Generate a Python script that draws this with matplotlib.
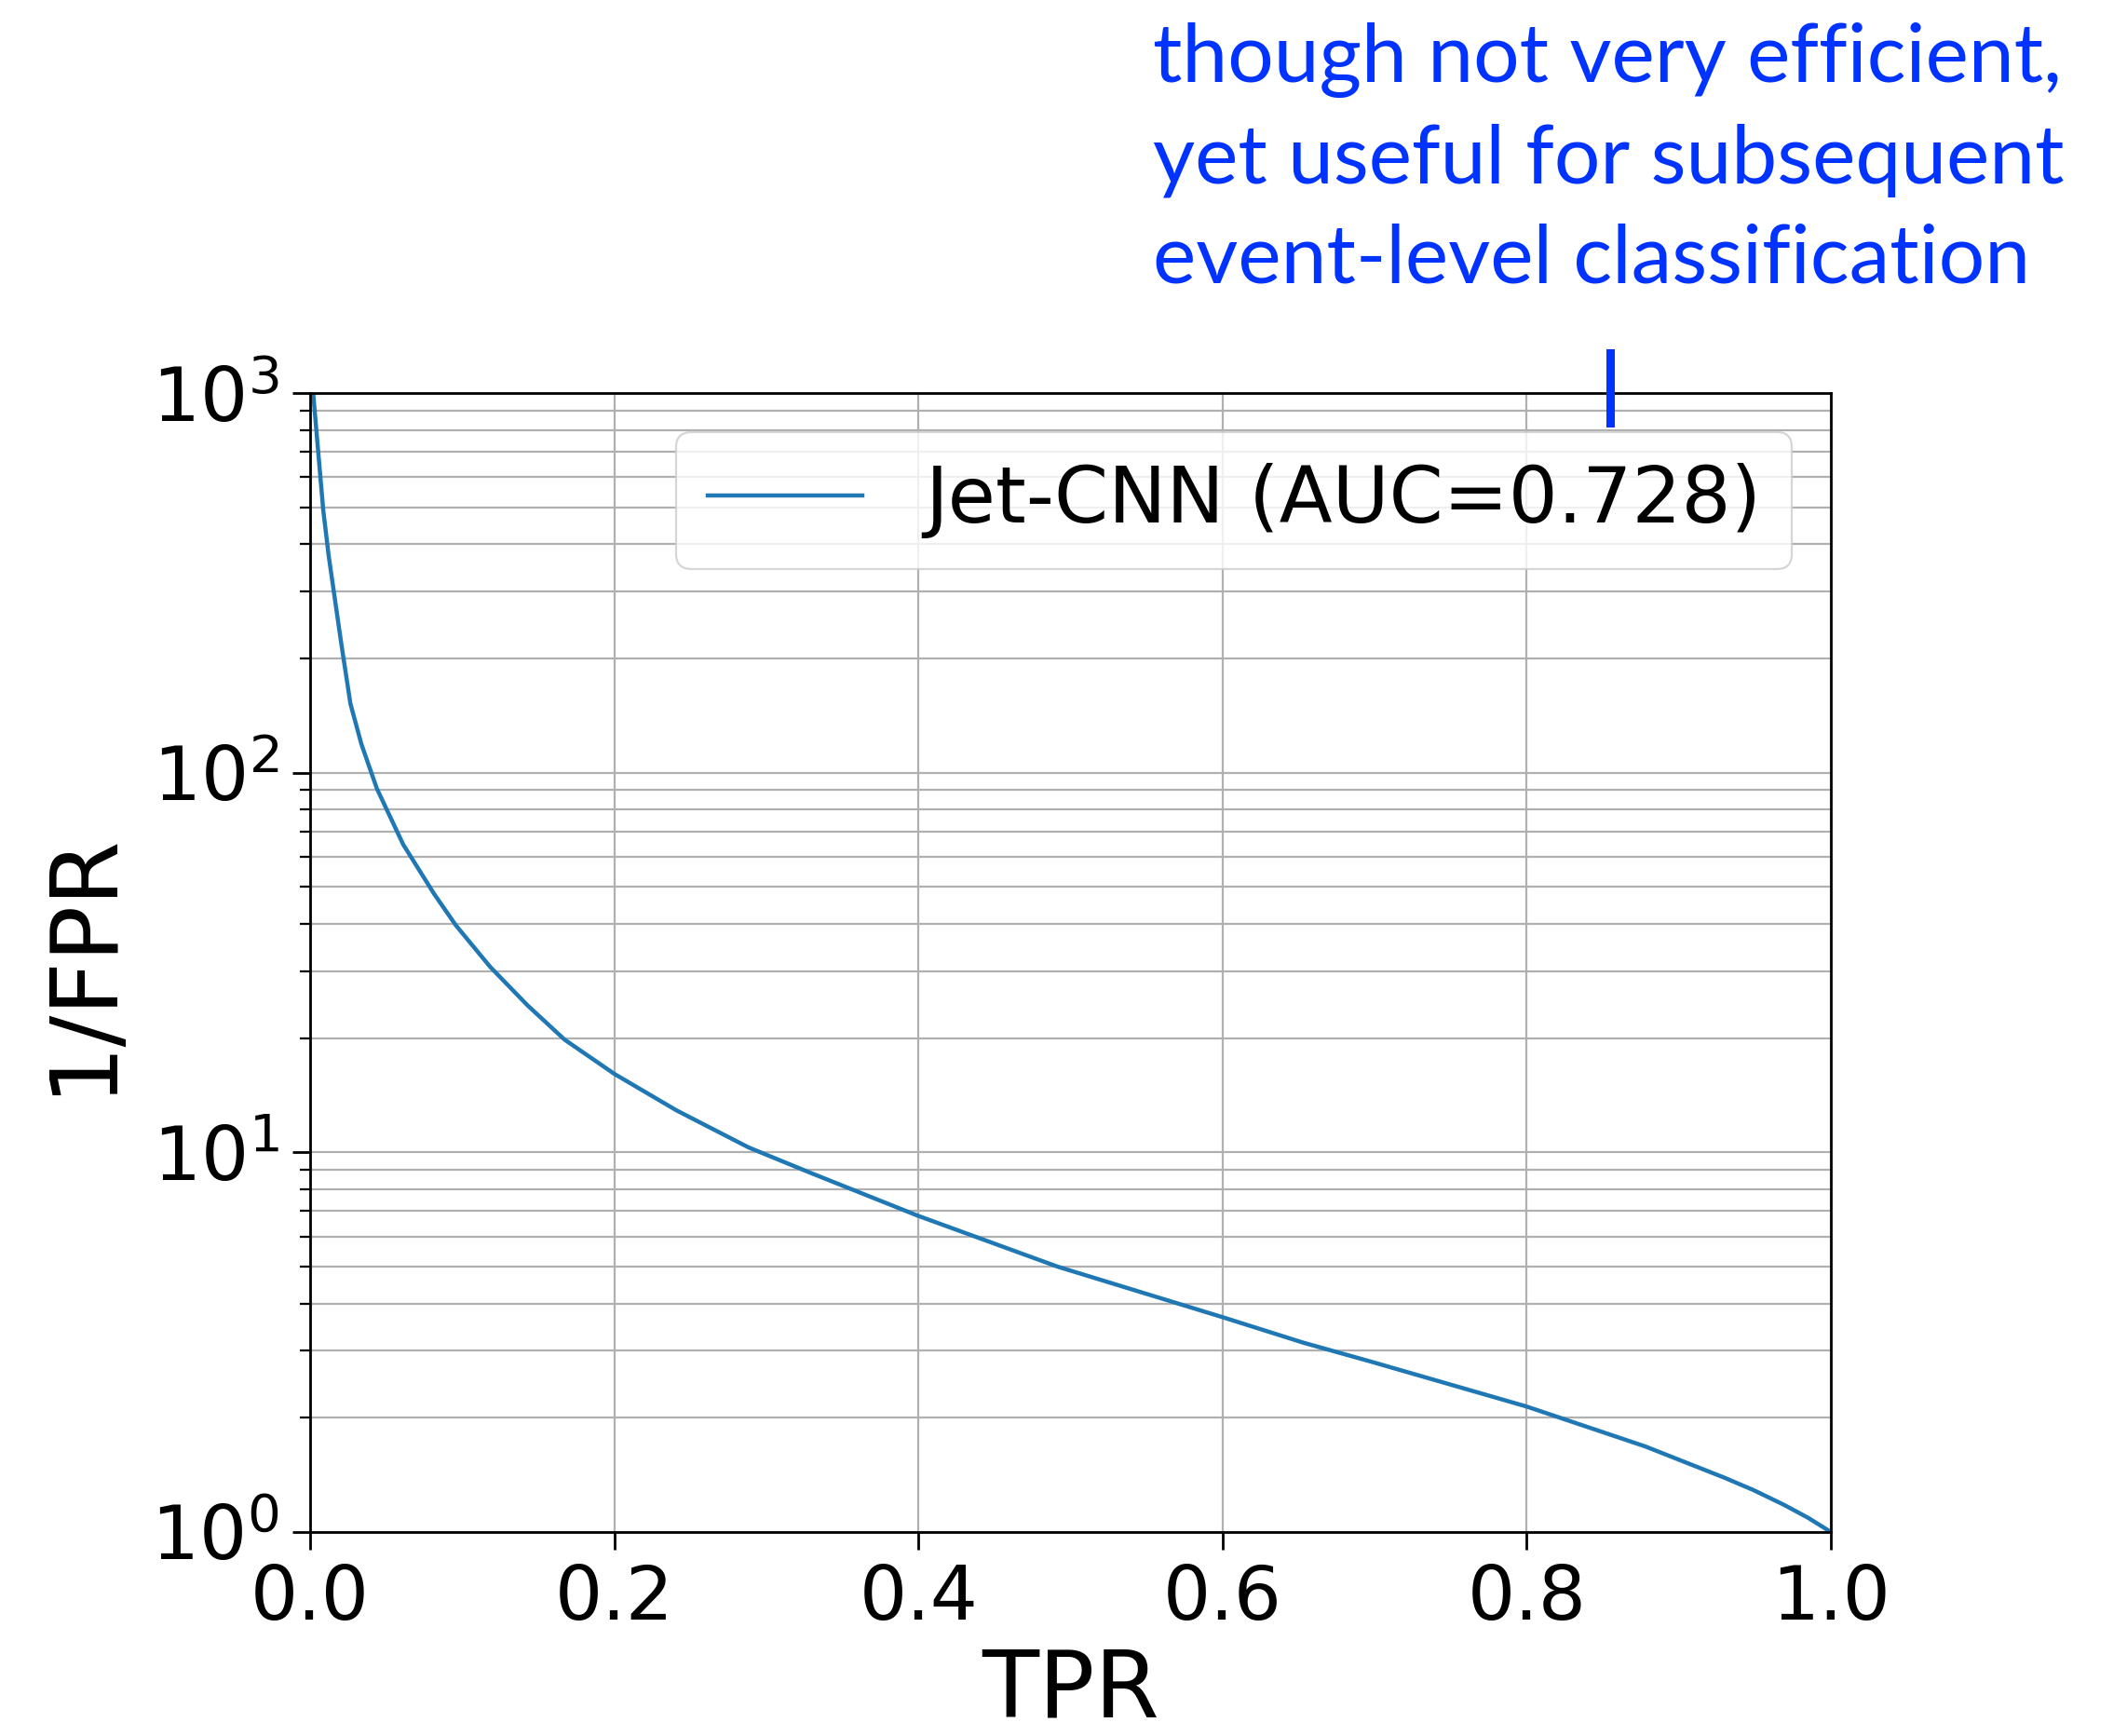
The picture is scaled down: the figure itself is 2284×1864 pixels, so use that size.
import matplotlib
matplotlib.use("Agg")
import matplotlib.pyplot as plt
import numpy as np

# ROC curve: TPR vs 1/FPR
tpr = [0.002, 0.0086, 0.0122, 0.0204, 0.0265, 0.0337, 0.0439, 0.0612,
       0.0816, 0.0959, 0.1184, 0.1429, 0.1674, 0.2, 0.2409, 0.2884, 0.33, 0.4,
       0.4915, 0.6, 0.6534, 0.6963, 0.8, 0.878, 0.93, 0.949, 0.969, 0.985, 1.0]
inv_fpr = [1000, 493, 373, 220, 152, 119, 90.8, 64.7,
           47.9, 39.6, 30.8, 24.4, 19.8, 16.1, 12.9, 10.3, 8.8, 6.8,
           5.0, 3.68, 3.15, 2.82, 2.14, 1.68, 1.39, 1.29, 1.18, 1.09, 1.0]
series_label = "Jet-CNN (AUC=0.728)"
x_ticks = [0.0, 0.2, 0.4, 0.6, 0.8, 1.0]
annotation = "though not very efficient,\nyet useful for subsequent\nevent-level classification"

fig = plt.figure(figsize=(22.84, 18.64), dpi=100)
ax = fig.add_axes([0.1458, 0.1175, 0.8608 - 0.1458, 0.7736 - 0.1175])

ax.plot(tpr, inv_fpr, color="#1f77b4", lw=3.2, label=series_label)
ax.set_yscale("log")
ax.set_xlim(0, 1)
ax.set_ylim(1, 1000)
ax.set_xticks(x_ticks)
ax.set_xticklabels([f"{v:.1f}" for v in x_ticks])

ax.grid(True, which="major", axis="x", color="#b0b0b0", lw=1.6)
ax.grid(True, which="both", axis="y", color="#b0b0b0", lw=1.6)

ax.tick_params(axis="both", which="major", labelsize=58, length=14, width=2, pad=10)
ax.tick_params(axis="y", which="minor", length=8, width=1.6)
for s in ax.spines.values():
    s.set_linewidth(2)

ax.set_xlabel("TPR", fontsize=72, labelpad=8)
ax.set_ylabel("1/FPR", fontsize=72, labelpad=18)

leg = ax.legend(loc="upper right", fontsize=60, handlelength=2.0,
                borderaxespad=0.5, framealpha=0.8, fancybox=True)
leg.get_frame().set_linewidth(1.6)

fig.text(1238 / 2284, 1 - 24 / 1864, annotation, color="#0033ff",
         fontsize=63, family="Lato", ha="left", va="top", linespacing=1.43,
         transform=fig.transFigure)
fig.add_artist(plt.Line2D([1729 / 2284, 1729 / 2284], [1 - 379 / 1864, 1 - 454 / 1864],
                          color="#0033ff", lw=6.5, transform=fig.transFigure))

fig.savefig("out.png", dpi=100)
